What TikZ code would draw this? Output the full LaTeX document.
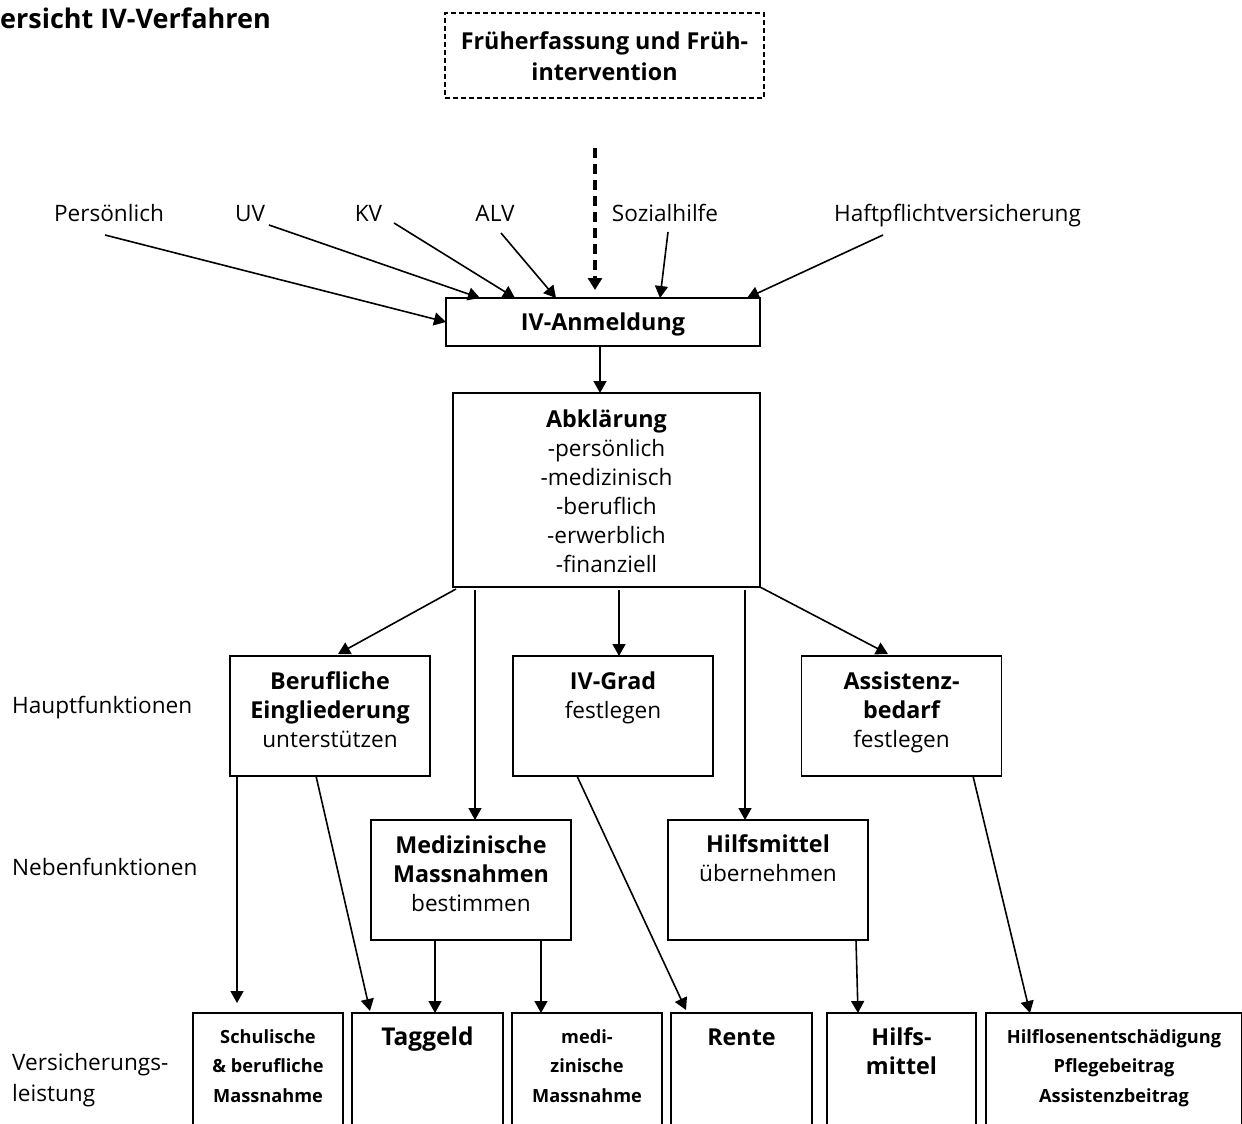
\documentclass[tikz,border=0pt]{standalone}
\usepackage{fontspec}
\setmainfont{Open Sans}
\usetikzlibrary{arrows.meta}
\newcommand{\fnorm}{\fontsize{22.6}{29}\selectfont}
\newcommand{\fsmall}{\fontsize{18.2}{29.5}\selectfont}
\newcommand{\fbig}{\fontsize{23.3}{29}\selectfont\bfseries}
\newcommand{\ftitle}{\fontsize{27}{30}\selectfont}
\newcommand{\bt}[1]{{\fbig #1}}
\newcommand{\bxt}[4]{\parbox[c][#2][t]{#1}{\centering\rule{0pt}{#3}#4\par}}
\tikzset{
  boxst/.style={draw, line width=1.8pt, inner sep=0pt, outer sep=0pt},
  dashbox/.style={draw, line width=1.4pt, dash pattern=on 5pt off 3pt, inner sep=0pt, outer sep=0pt},
  lab/.style={inner sep=0pt, font=\fnorm},
  arr/.style={line width=1.6pt, -{Triangle[length=12pt,width=13pt]}},
  darr/.style={line width=3.2pt, dash pattern=on 10pt off 6pt, -{Triangle[length=12pt,width=14pt]}}
}
\begin{document}
\begin{tikzpicture}[x=1pt,y=-1pt]
\useasboundingbox (0,0) rectangle (1242,1124);
\clip (0,0) rectangle (1242,1124);
% title
\node[inner sep=0pt, anchor=base west, font=\ftitle\bfseries] (title) at (0,29) {ersicht IV-Verfahren};
% top boxes
\node[dashbox, font=\fnorm] (fruh) at (604.5,55.5) {\bxt{319pt}{85pt}{37pt}{\bt{Früherfassung und Früh-}\\[2pt]\bt{intervention}}};
\node[boxst, font=\fnorm] (anm) at (603,322) {\bxt{314pt}{48pt}{32pt}{\bt{IV-Anmeldung}}};
\node[boxst, font=\fnorm] (abk) at (606.5,490) {\bxt{307pt}{194pt}{34pt}{\bt{Abklärung}\\-persönlich\\-medizinisch\\-beruflich\\-erwerblich\\-finanziell}};
% main functions
\node[boxst, font=\fnorm] (beruf) at (330,716) {\bxt{200pt}{120pt}{33pt}{\bt{Berufliche}\\\bt{Eingliederung}\\unterstützen}};
\node[boxst, font=\fnorm] (grad) at (613,716) {\bxt{200pt}{120pt}{33pt}{\bt{IV-Grad}\\festlegen}};
\node[boxst, font=\fnorm] (assist) at (901.5,716) {\bxt{200pt}{120pt}{33pt}{\bt{Assistenz-}\\\bt{bedarf}\\festlegen}};
% secondary functions
\node[boxst, font=\fnorm] (med) at (471,880) {\bxt{200pt}{120pt}{33pt}{\bt{Medizinische}\\\bt{Massnahmen}\\bestimmen}};
\node[boxst, font=\fnorm] (hilf) at (768,880) {\bxt{200pt}{120pt}{32pt}{\bt{Hilfsmittel}\\übernehmen}};
% benefits
\node[boxst, font=\fsmall\bfseries] (schul) at (268,1076.5) {\bxt{150pt}{127pt}{30pt}{Schulische\\\& berufliche\\Massnahme}};
\node[boxst, font=\fnorm] (tag) at (427.5,1076.5) {\bxt{151pt}{127pt}{32pt}{{\fontsize{24.5}{29}\selectfont\bfseries Taggeld}}};
\node[boxst, font=\fsmall\bfseries] (medi) at (587,1076.5) {\bxt{150pt}{127pt}{30pt}{medi-\\zinische\\Massnahme}};
\node[boxst, font=\fnorm] (rente) at (741.5,1076.5) {\bxt{141pt}{127pt}{32pt}{\bt{Rente}}};
\node[boxst, font=\fnorm] (hilfsb) at (901.5,1076.5) {\bxt{149pt}{127pt}{32pt}{\bt{Hilfs-}\\\bt{mittel}}};
\node[boxst, font=\fsmall\bfseries] (hilflos) at (1114,1076.5) {\bxt{256pt}{127pt}{30pt}{Hilflosenentschädigung\\Pflegebeitrag\\Assistenzbeitrag}};
% left labels
\node[lab, anchor=base west] (haupt) at (12,713) {Hauptfunktionen};
\node[lab, anchor=base west] (neben) at (12,875) {Nebenfunktionen};
\node[lab, anchor=base west, align=left] (vers) at (12,1101) {Versicherungs-\\[2pt]leistung};
% source labels
\node[lab, anchor=base] (pers) at (109,221) {Persönlich};
\node[lab, anchor=base] (uv) at (250,221) {UV};
\node[lab, anchor=base] (kv) at (368.5,221) {KV};
\node[lab, anchor=base] (alv) at (495,221) {ALV};
\node[lab, anchor=base] (sozi) at (665,221) {Sozialhilfe};
\node[lab, anchor=base] (haft) at (957.5,221) {Haftpflichtversicherung};
% free start points of incoming arrows
\coordinate (pS) at (105,235);
\coordinate (uS) at (269,225);
\coordinate (kS) at (394,223);
\coordinate (aS) at (501,233);
\coordinate (dS) at (595,148);
\coordinate (sS) at (668,232);
\coordinate (hS) at (883,235);
% incoming arrows
\draw[arr] (pS) -- (anm.west);
\draw[arr] (uS) -- ([xshift=-123pt]anm.north);
\draw[arr] (kS) -- ([xshift=-88pt]anm.north);
\draw[arr] (aS) -- ([xshift=-47pt]anm.north);
\draw[darr] (dS) -- ([xshift=-8pt,yshift=8pt]anm.north);
\draw[arr] (sS) -- ([xshift=57pt]anm.north);
\draw[arr] (hS) -- ([xshift=144pt]anm.north);
% flow
\draw[arr] ([xshift=-3pt]anm.south) -- ([xshift=-6.5pt]abk.north);
\draw[arr] ([xshift=3pt,yshift=-2pt]abk.south west) -- ([xshift=8pt,yshift=2pt]beruf.north);
\draw[arr] ([xshift=-131.5pt,yshift=-3pt]abk.south) -- ([xshift=4pt]med.north);
\draw[arr] ([xshift=12.5pt,yshift=-3pt]abk.south) -- ([xshift=6pt]grad.north);
\draw[arr] ([xshift=138.5pt,yshift=-3pt]abk.south) -- ([xshift=-23pt]hilf.north);
\draw[arr] (abk.south east) -- ([xshift=-13.5pt,yshift=2pt]assist.north);
% to benefits
\draw[arr] ([xshift=7pt]beruf.south west) -- ([xshift=-31pt,yshift=10pt]schul.north);
\draw[arr] ([xshift=-14pt]beruf.south) -- ([xshift=-57.5pt,yshift=2pt]tag.north);
\draw[arr] ([xshift=-36pt]med.south) -- ([xshift=7.5pt]tag.north);
\draw[arr] ([xshift=70pt]med.south) -- ([xshift=-46pt]medi.north);
\draw[arr] ([xshift=-36pt]grad.south) -- ([xshift=-55.5pt,yshift=3pt]rente.north);
\draw[arr] ([xshift=88pt]hilf.south) -- ([xshift=-43.5pt]hilfsb.north);
\draw[arr] ([xshift=71.5pt]assist.south) -- ([xshift=-84pt]hilflos.north);
\end{tikzpicture}
\end{document}
